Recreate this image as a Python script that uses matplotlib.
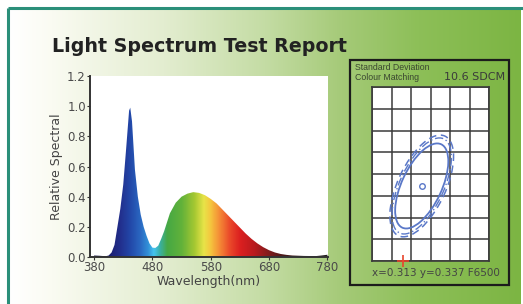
import numpy as np
import matplotlib
matplotlib.use("Agg")
import matplotlib.pyplot as plt
from matplotlib.colors import LinearSegmentedColormap, to_rgb
from matplotlib.patches import Polygon, Rectangle, Ellipse

# ---------------- data ----------------
wavelength = [380, 390, 400, 405, 410, 415, 420, 425, 430, 435, 440, 442, 445,
              450, 455, 460, 465, 470, 475, 480, 485, 490, 495, 500, 505, 510,
              520, 530, 540, 550, 560, 570, 580, 590, 600, 610, 620, 630, 640,
              650, 660, 670, 680, 690, 700, 710, 720, 740, 760, 770, 780]
relative = [0.010, 0.008, 0.005, 0.010, 0.030, 0.080, 0.200, 0.320, 0.480,
            0.720, 0.970, 0.990, 0.900, 0.580, 0.400, 0.280, 0.200, 0.140,
            0.090, 0.062, 0.060, 0.075, 0.120, 0.170, 0.230, 0.290, 0.360,
            0.400, 0.420, 0.430, 0.425, 0.410, 0.385, 0.355, 0.315, 0.275,
            0.235, 0.195, 0.155, 0.120, 0.090, 0.065, 0.045, 0.030, 0.020,
            0.014, 0.010, 0.007, 0.006, 0.010, 0.015]
x_ticks = [380, 480, 580, 680, 780]
y_ticks = [0.0, 0.2, 0.4, 0.6, 0.8, 1.0, 1.2]
y_ticklabels = ["0.0", "0.2", "0.4", "0.6", "0.8", "1.0", "1.2"]

title = "Light Spectrum Test Report"
sdcm_value = 10.6
cie_x, cie_y = 0.313, 0.337
ref_name = "F6500"
# panel positions (panel units: 6 x 8 grid cells)
grid_cols, grid_rows = 6, 8
target_pos = [2.55, 3.45]
measured_pos = [1.6, 0.0]
# ellipses: (semi-major, semi-minor, angle) in panel pixels
ell_inner = (46, 20, 65)
ell_mid = (52, 22, 65)
ell_outer = (55, 24, 65)

# ---------------- figure ----------------
W, H = 523, 304
fig = plt.figure(figsize=(W / 100, H / 100), dpi=100)
fig.patch.set_facecolor("white")

bg = fig.add_axes([0, 0, 1, 1])
bg.set_xlim(0, W)
bg.set_ylim(H, 0)
bg.axis("off")

# green gradient panel
grad_cmap = LinearSegmentedColormap.from_list(
    "g", [(0.0, "#ffffff"), (0.08, "#fafbf2"), (0.3, "#e3edd0"),
          (0.5, "#c4dca4"), (0.65, "#a5ca78"), (0.8, "#8dbf58"),
          (1.0, "#7cb543")])
grad = np.linspace(0, 1, 512)[None, :]
bg.imshow(grad, cmap=grad_cmap, extent=(10, 521, 304, 10), aspect="auto",
          zorder=0)
bg.plot([7.5, 523], [7.5, 7.5], color="#2b8f7a", lw=2.2, solid_capstyle="butt")
bg.plot([7.5, 7.5], [7.5, 304], color="#2b8f7a", lw=2.2, solid_capstyle="butt")

bg.text(52, 46, title, fontsize=13.7, fontweight="bold", color="#222222",
        va="center", ha="left", family="DejaVu Sans")

# right panel box and texts
bg.add_patch(Rectangle((350, 60), 159, 225, fill=False, ec="#1c1c1c", lw=1.6))
bg.text(355, 67.5, "Standard Deviation", fontsize=6.3, color="#3a4630",
        va="center", ha="left", family="Liberation Sans")
bg.text(355, 77.5, "Colour Matching", fontsize=6.3, color="#3a4630",
        va="center", ha="left", family="Liberation Sans")
bg.text(505, 77.5, f"{sdcm_value} SDCM", fontsize=8, color="#3a3a3a",
        va="center", ha="right")
bg.text(436, 273, f"x={cie_x} y={cie_y} {ref_name}", fontsize=7.5,
        color="#444444", va="center", ha="center")

# ---------------- spectrum axes ----------------
ax = fig.add_axes([90 / W, (H - 257) / H, 238 / W, 181 / H])
ax.set_facecolor("white")

stops = [(380, "#1a1a48"), (405, "#1c1e70"), (425, "#22308e"),
         (440, "#2245a6"), (458, "#2a66c0"), (472, "#3290d8"),
         (482, "#45c4ee"), (492, "#3ab0a8"), (505, "#46a844"),
         (530, "#62b23a"), (552, "#a6c832"), (568, "#e8e448"),
         (580, "#f5c43e"), (595, "#f48a36"), (612, "#ea4a2a"),
         (630, "#dc2020"), (655, "#b81a1e"), (680, "#7e1c1c"),
         (705, "#4a1a1a"), (780, "#222020")]
lo, hi = 380, 780
spec_cmap = LinearSegmentedColormap.from_list(
    "spec", [((w - lo) / (hi - lo), to_rgb(c)) for w, c in stops])
img = np.linspace(0, 1, 800)[None, :]
im = ax.imshow(img, cmap=spec_cmap, extent=(lo, hi, 0, 1.2), aspect="auto",
               origin="lower", zorder=1)
verts = list(zip(wavelength, relative)) + [(wavelength[-1], 0), (wavelength[0], 0)]
poly = Polygon(verts, closed=True, transform=ax.transData, fc="none", ec="none")
ax.add_patch(poly)
im.set_clip_path(poly)
ax.set_xlim(373, 781)
ax.set_ylim(0, 1.2)

for s in ["top", "right"]:
    ax.spines[s].set_visible(False)
for s in ["left", "bottom"]:
    ax.spines[s].set_color("#333333")
    ax.spines[s].set_linewidth(1.4)
    ax.spines[s].set_zorder(3)
ax.set_xticks(x_ticks)
ax.set_yticks(y_ticks)
ax.set_yticklabels(y_ticklabels)
ax.tick_params(axis="both", labelsize=8.5, labelcolor="#4a4a4a",
               color="#333333", length=2.5, width=0.8, pad=0.5)
ax.set_xlabel("Wavelength(nm)", fontsize=9, color="#444444")
ax.set_ylabel("Relative Spectral", fontsize=9, color="#444444")
ax.xaxis.set_label_coords(0.5, -0.136)
ax.xaxis.label.set_va("center")
ax.yaxis.set_label_coords(-0.139, 0.5)
ax.yaxis.label.set_va("center")

# ---------------- colour matching grid ----------------
gx0, gx1, gy0, gy1 = 372, 489, 87, 261
gax = fig.add_axes([gx0 / W, (H - gy1) / H, (gx1 - gx0) / W, (gy1 - gy0) / H])
gax.set_facecolor("white")
cw = (gx1 - gx0) / grid_cols
ch = (gy1 - gy0) / grid_rows
gax.set_xlim(0, gx1 - gx0)
gax.set_ylim(0, gy1 - gy0)
gax.set_xticks([i * cw for i in range(grid_cols + 1)])
gax.set_yticks([j * ch for j in range(grid_rows + 1)])
gax.tick_params(length=0, labelbottom=False, labelleft=False)
gax.grid(True, color="#3a3a3a", lw=1.1)
for s in gax.spines.values():
    s.set_color("#3a3a3a")
    s.set_linewidth(1.2)

cx, cy = target_pos[0] * cw, target_pos[1] * ch
ecol = "#5a78c8"
for (a, b, ang), ls, lw in [(ell_inner, "-", 1.3), (ell_mid, (0, (6, 2, 1, 2)), 1.0),
                            (ell_outer, (0, (5, 3)), 1.1)]:
    gax.add_patch(Ellipse((cx, cy), 2 * a, 2 * b, angle=ang, fill=False,
                          ec=ecol, lw=lw, ls=ls, zorder=3))
gax.plot([cx], [cy], "o", ms=4, mfc="none", mec=ecol, mew=1.0, zorder=4)
gax.plot([measured_pos[0] * cw], [measured_pos[1] * ch], "+", ms=8,
         color="#e8452c", mew=1.2, clip_on=False, zorder=5)

fig.savefig("out.png", dpi=100)
